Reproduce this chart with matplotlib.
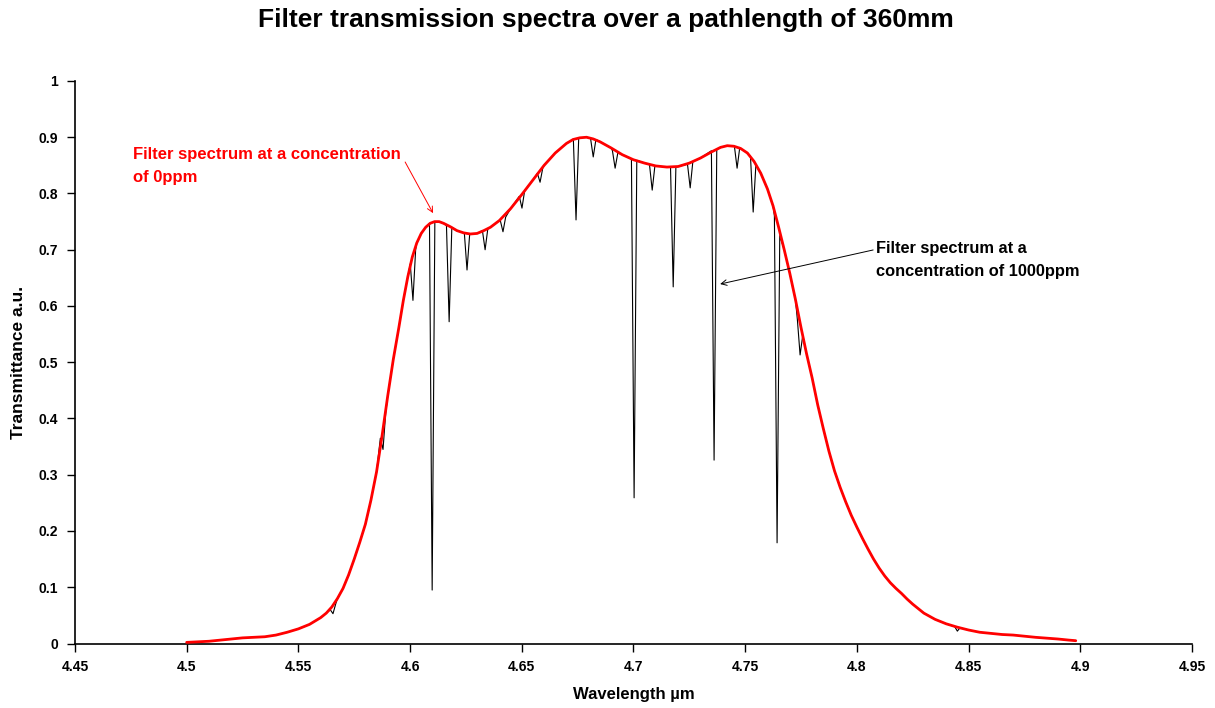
import matplotlib
matplotlib.use("Agg")
import matplotlib.pyplot as plt

# 0ppm filter spectrum (smooth red curve)
red_wl = [4.500, 4.505, 4.510, 4.515, 4.520, 4.525, 4.530, 4.535, 4.540, 4.545,
          4.550, 4.555, 4.560, 4.5625, 4.565, 4.5675, 4.570, 4.5725, 4.575, 4.5775,
          4.580, 4.5825, 4.585, 4.5875, 4.590, 4.5925, 4.595, 4.597, 4.599, 4.601,
          4.603, 4.605, 4.607, 4.609, 4.611, 4.613, 4.615, 4.618, 4.621, 4.624,
          4.627, 4.630, 4.633, 4.636, 4.640, 4.645, 4.650, 4.655, 4.660, 4.665,
          4.670, 4.673, 4.676, 4.679, 4.682, 4.685, 4.690, 4.695, 4.700, 4.705,
          4.710, 4.715, 4.720, 4.725, 4.730, 4.735, 4.739, 4.742, 4.745, 4.748,
          4.751, 4.754, 4.757, 4.760, 4.7625, 4.765, 4.7675, 4.770, 4.7725, 4.775,
          4.7775, 4.780, 4.7825, 4.785, 4.7875, 4.790, 4.7925, 4.795, 4.7975, 4.800,
          4.8025, 4.805, 4.8075, 4.810, 4.8125, 4.815, 4.8175, 4.820, 4.8225, 4.825,
          4.8275, 4.830, 4.835, 4.840, 4.845, 4.850, 4.855, 4.860, 4.865, 4.870,
          4.875, 4.880, 4.885, 4.890, 4.895, 4.898]
red_T = [0.002, 0.003, 0.004, 0.006, 0.008, 0.010, 0.011, 0.012, 0.015, 0.020,
         0.026, 0.034, 0.046, 0.054, 0.065, 0.080, 0.098, 0.122, 0.150, 0.180,
         0.212, 0.255, 0.305, 0.370, 0.440, 0.505, 0.562, 0.610, 0.652, 0.687,
         0.712, 0.729, 0.740, 0.747, 0.750, 0.750, 0.747, 0.741, 0.734, 0.730,
         0.728, 0.729, 0.734, 0.740, 0.752, 0.773, 0.798, 0.824, 0.850, 0.872,
         0.889, 0.896, 0.899, 0.900, 0.897, 0.892, 0.881, 0.869, 0.860, 0.854,
         0.849, 0.847, 0.848, 0.854, 0.863, 0.874, 0.882, 0.885, 0.884, 0.880,
         0.872, 0.857, 0.836, 0.808, 0.778, 0.740, 0.700, 0.658, 0.612, 0.562,
         0.515, 0.472, 0.424, 0.382, 0.342, 0.307, 0.278, 0.252, 0.228, 0.207,
         0.187, 0.168, 0.150, 0.134, 0.120, 0.108, 0.098, 0.089, 0.079, 0.070,
         0.062, 0.054, 0.043, 0.035, 0.029, 0.024, 0.020, 0.018, 0.016, 0.015,
         0.013, 0.011, 0.0095, 0.008, 0.006, 0.005]

# 1000ppm spectrum: absorption lines (centre, bottom, value at left / right edge)
dip_wl = [4.5655, 4.5879, 4.6013, 4.6099, 4.6175, 4.6255, 4.6336, 4.6416, 4.6501,
          4.6582, 4.6743, 4.6820, 4.6918, 4.7003, 4.7084, 4.7178, 4.7254, 4.7361,
          4.7464, 4.7536, 4.7643, 4.7746, 4.8450]
dip_bottom = [0.053, 0.345, 0.610, 0.095, 0.572, 0.664, 0.700, 0.732, 0.774,
              0.820, 0.753, 0.865, 0.845, 0.259, 0.806, 0.634, 0.810, 0.326,
              0.845, 0.767, 0.179, 0.513, 0.022]
dip_left = [0.060, 0.365, 0.675, 0.747, 0.743, 0.730, 0.734, 0.752, 0.795,
            0.836, 0.897, 0.898, 0.876, 0.861, 0.851, 0.847, 0.852, 0.876,
            0.884, 0.866, 0.760, 0.575, 0.030]
dip_right = [0.070, 0.410, 0.700, 0.750, 0.740, 0.728, 0.737, 0.758, 0.805,
             0.845, 0.899, 0.896, 0.872, 0.859, 0.849, 0.847, 0.857, 0.878,
             0.882, 0.850, 0.725, 0.548, 0.028]
dip_halfwidth = 0.0012

x_ticks = [4.45, 4.5, 4.55, 4.6, 4.65, 4.7, 4.75, 4.8, 4.85, 4.9, 4.95]
x_labels = ['4.45', '4.5', '4.55', '4.6', '4.65', '4.7', '4.75', '4.8', '4.85', '4.9', '4.95']
y_ticks = [0, 0.1, 0.2, 0.3, 0.4, 0.5, 0.6, 0.7, 0.8, 0.9, 1]
y_labels = ['0', '0.1', '0.2', '0.3', '0.4', '0.5', '0.6', '0.7', '0.8', '0.9', '1']

# black series = red points away from the lines + the line points themselves
pts = [(w, t) for w, t in zip(red_wl, red_T)
       if all(abs(w - c) > dip_halfwidth for c in dip_wl)]
for c, b, l, r in zip(dip_wl, dip_bottom, dip_left, dip_right):
    pts += [(c - dip_halfwidth, l), (c, b), (c + dip_halfwidth, r)]
pts.sort()
black_wl = [p[0] for p in pts]
black_T = [p[1] for p in pts]

plt.rcParams['font.family'] = ['Liberation Sans', 'DejaVu Sans']
plt.rcParams['font.weight'] = 'bold'

fig = plt.figure(figsize=(12.15, 7.08), dpi=100)
ax = fig.add_axes([0.0617, 0.0911, 0.9193, 0.7945])

ax.plot(black_wl, black_T, color='black', lw=0.8, zorder=2)
ax.plot(red_wl, red_T, color='#ff0000', lw=2.0, zorder=3, solid_capstyle='round')

ax.set_xlim(4.45, 4.95)
ax.set_ylim(0, 1)
ax.set_xticks(x_ticks)
ax.set_xticklabels(x_labels)
ax.set_yticks(y_ticks)
ax.set_yticklabels(y_labels)
ax.tick_params(direction='out', length=6, width=1, labelsize=10, pad=6)
for s in ['top', 'right']:
    ax.spines[s].set_visible(False)
for s in ['left', 'bottom']:
    ax.spines[s].set_linewidth(1.2)

ax.set_xlabel('Wavelength µm', fontsize=12, fontweight='bold', labelpad=9)
ax.set_ylabel('Transmittance a.u.', fontsize=12.5, fontweight='bold', labelpad=9)
fig.text(0.499, 0.972, 'Filter transmission spectra over a pathlength of 360mm',
         fontsize=19, fontweight='bold', ha='center', va='center')

ax.text(4.476, 0.882, 'Filter spectrum at a concentration\nof 0ppm',
        color='#ff0000', fontsize=12, fontweight='bold',
        ha='left', va='top', linespacing=1.6)
ax.annotate('', xy=(4.6103, 0.765), xytext=(4.5978, 0.856),
            arrowprops=dict(arrowstyle='->', color='#ff0000', lw=0.7,
                            shrinkA=0, shrinkB=0))
ax.text(4.8085, 0.715, 'Filter spectrum at a\nconcentration of 1000ppm',
        color='black', fontsize=11.8, fontweight='bold',
        ha='left', va='top', linespacing=1.6)
ax.annotate('', xy=(4.7388, 0.639), xytext=(4.8073, 0.6996),
            arrowprops=dict(arrowstyle='->', color='black', lw=0.7,
                            shrinkA=0, shrinkB=0))

fig.savefig('out.png', dpi=100)
